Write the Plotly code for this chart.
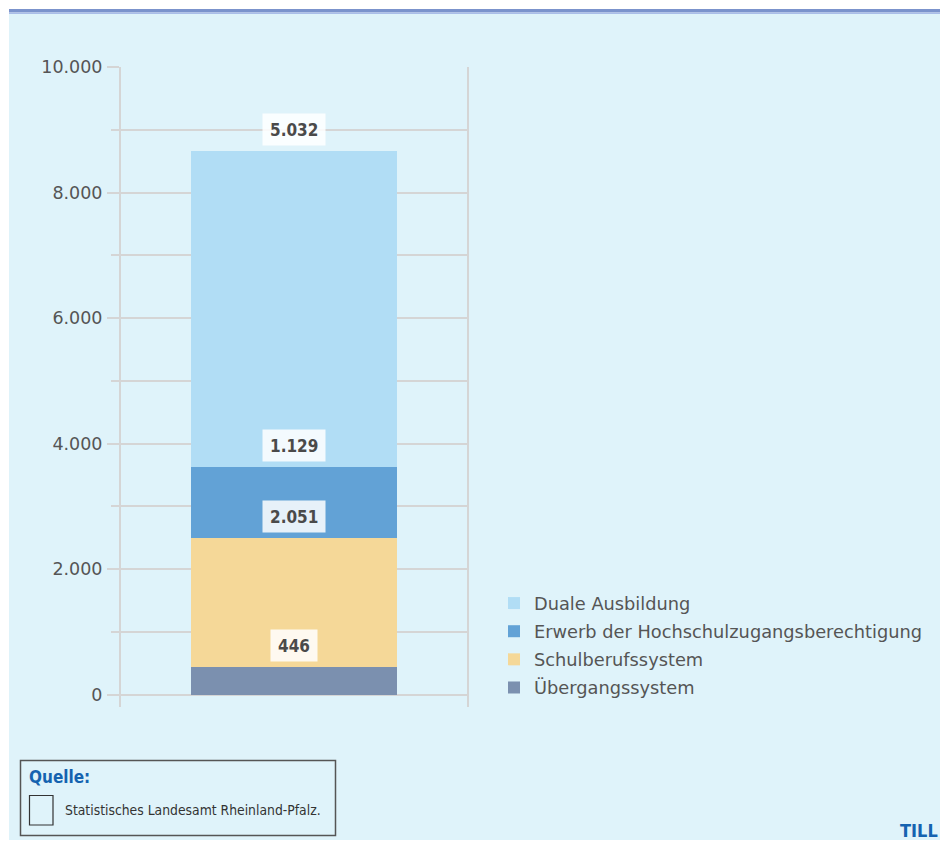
import plotly.graph_objects as go

# Segments of the stacked column, bottom to top
series = ["Übergangssystem", "Schulberufssystem",
          "Erwerb der Hochschulzugangsberechtigung", "Duale Ausbildung"]
values = [446, 2051, 1129, 5032]
colors = ["#7b90af", "#f5d898", "#62a2d6", "#b1ddf5"]
value_labels = ["446", "2.051", "1.129", "5.032"]

W, H = 940, 843
L, R, T, B = 121, 467, 67, 707  # plot area in pixels


def px(x):
    return (x - L) / (R - L)


def py(y):
    return (B - y) / (B - T)


fig = go.Figure()
n = len(series)
for i, (name, v, c) in enumerate(zip(series, values, colors)):
    # legend lists the top segment first
    fig.add_trace(go.Bar(x=[0], y=[v], name=name, legendgroup=f"g{i}", legendrank=n - i,
                         marker=dict(color=c, line=dict(width=0)),
                         width=0.593, hoverinfo="skip"))

# value boxes just above each segment's top
annotations = []
top = 0
for v, lab in zip(values, value_labels):
    top += v
    annotations.append(dict(x=0, y=top, xref="x", yref="y", text=f"<b>{lab}</b>", showarrow=False,
                            yshift=21.5, yanchor="middle",
                            font=dict(family="DejaVu Sans Condensed", size=17, color="#4a4a4a"),
                            bgcolor="rgba(255,255,255,0.85)", borderpad=7, height=17))

annotations += [
    dict(x=px(27), y=py(777), xref="paper", yref="paper", text="<b>Quelle:</b>",
         showarrow=False, xanchor="left", yanchor="middle",
         font=dict(family="DejaVu Sans Condensed", size=17, color="#1563b0")),
    dict(x=px(63), y=py(810), xref="paper", yref="paper",
         text="Statistisches Landesamt Rheinland-Pfalz.",
         showarrow=False, xanchor="left", yanchor="middle",
         font=dict(family="DejaVu Sans Condensed", size=13.8, color="#333333")),
    dict(x=px(940), y=py(830), xref="paper", yref="paper", text="<b>TILL</b>",
         showarrow=False, xanchor="right", yanchor="middle",
         font=dict(family="DejaVu Sans Condensed", size=18, color="#1563b0")),
]

shapes = [
    dict(type="rect", xref="paper", yref="paper", x0=px(9), x1=px(W + 5), y0=py(14), y1=py(840),
         fillcolor="#dff3fa", line=dict(width=0), layer="below"),
    dict(type="rect", xref="paper", yref="paper", x0=px(9), x1=px(W + 5), y0=py(9), y1=py(12.5),
         fillcolor="#7b93cc", line=dict(width=0), layer="below"),
    dict(type="rect", xref="paper", yref="paper", x0=px(9), x1=px(W + 5), y0=py(12.5), y1=py(14),
         fillcolor="#a9bde8", line=dict(width=0), layer="below"),
    dict(type="rect", xref="paper", yref="paper", x0=px(20.5), x1=px(335.5), y0=py(760.5), y1=py(835.5),
         line=dict(color="#555555", width=1.5)),
    dict(type="rect", xref="paper", yref="paper", x0=px(29.5), x1=px(53), y0=py(795.5), y1=py(825),
         line=dict(color="#333333", width=1.2)),
]

grid = "#d5d5d5"
fig.update_layout(
    width=W, height=H,
    margin=dict(l=L, r=W - R, t=T, b=H - B, pad=0),
    paper_bgcolor="white", plot_bgcolor="rgba(0,0,0,0)",
    barmode="stack", bargap=0,
    separators=",.",
    showlegend=True,
    legend=dict(x=px(494), y=py(585), xanchor="left", yanchor="top",
                traceorder="grouped", bgcolor="rgba(0,0,0,0)",
                font=dict(family="DejaVu Sans", size=17.8, color="#555555"),
                tracegroupgap=2),
    xaxis=dict(range=[-0.5, 0.5], showticklabels=False, showgrid=False, zeroline=False,
               showline=False, ticks=""),
    yaxis=dict(range=[-196, 10000], tick0=0, dtick=2000, tickformat=",d",
               ticks="outside", ticklen=12, tickwidth=2, tickcolor=grid,
               showgrid=True, gridcolor=grid, gridwidth=2,
               minor=dict(dtick=1000, tick0=0, ticks="outside", ticklen=8, tickwidth=2,
                          tickcolor=grid, showgrid=True, gridcolor=grid, gridwidth=2),
               showline=True, mirror=True, linecolor=grid, linewidth=2, zeroline=False,
               tickfont=dict(family="DejaVu Sans", size=17.5, color="#555555"),
               ticklabelstandoff=1),
    annotations=annotations,
    shapes=shapes,
)

fig.write_html("out.html")
